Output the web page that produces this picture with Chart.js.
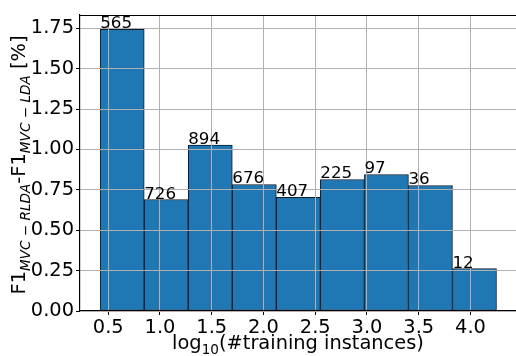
<!DOCTYPE html>
<html><head><meta charset="utf-8">
<script src="https://cdn.jsdelivr.net/npm/chart.js@4.4.0/dist/chart.umd.min.js"></script>
<style>html,body{margin:0;padding:0;background:#fff}#wrap{width:516px;height:356px;position:relative}</style>
</head><body><div id="wrap"><canvas id="c" width="516" height="356"></canvas></div>
<script>
// ---- data ----
const binCenters = [0.6348, 1.0603, 1.4858, 1.9113, 2.3368, 2.7623, 3.1878, 3.6133, 4.0388];
const f1Diff = [1.743, 0.690, 1.027, 0.783, 0.703, 0.814, 0.845, 0.777, 0.263];
const counts = [565, 726, 894, 676, 407, 225, 97, 36, 12];
const xTickValues = [0.5, 1.0, 1.5, 2.0, 2.5, 3.0, 3.5, 4.0];
const yTickValues = [0.00, 0.25, 0.50, 0.75, 1.00, 1.25, 1.50, 1.75];

const FONT = "'DejaVu Sans', sans-serif";
const BASE = 19.4;
const SUB = 13.6;

const gridOnTop = {
  id: 'gridOnTop',
  afterDatasetsDraw(chart) {
    const ca = chart.chartArea;
    const ctx = chart.ctx;
    ['x', 'y'].forEach(k => { const s = chart.scales[k]; s.drawGrid(ca); s.drawBorder && s.drawBorder(); });
    // top spine
    ctx.save();
    ctx.strokeStyle = '#000'; ctx.lineWidth = 1.1;
    ctx.beginPath(); ctx.moveTo(ca.left, ca.top + 0.5); ctx.lineTo(ca.right, ca.top + 0.5); ctx.stroke();
    ctx.restore();
    // bar count labels
    const meta = chart.getDatasetMeta(0);
    ctx.save();
    ctx.font = '16.7px ' + FONT;
    ctx.fillStyle = '#000';
    ctx.textAlign = 'left';
    ctx.textBaseline = 'alphabetic';
    meta.data.forEach((bar, i) => {
      const p = bar.getProps(['x', 'y', 'width'], true);
      ctx.fillText(String(counts[i]), p.x - p.width / 2, p.y - 1);
    });
    ctx.restore();
  }
};

function drawPieces(ctx, pieces) {
  let total = 0;
  pieces.forEach(p => { ctx.font = p.f; p.w = ctx.measureText(p.t).width; total += p.w; });
  let x = -total / 2;
  pieces.forEach(p => { ctx.font = p.f; ctx.fillText(p.t, x, p.dy || 0); x += p.w; });
}

const titles = {
  id: 'titles',
  afterDraw(chart) {
    const ctx = chart.ctx;
    const ca = chart.chartArea;
    ctx.save();
    ctx.fillStyle = '#000';
    ctx.textAlign = 'left';
    ctx.textBaseline = 'alphabetic';
    // y title
    ctx.save();
    ctx.translate(25, (ca.top + ca.bottom) / 2 + 2);
    ctx.rotate(-Math.PI / 2);
    const b = BASE + 'px ' + FONT, s = 'italic ' + SUB + 'px ' + FONT, sr = SUB + 'px ' + FONT;
    drawPieces(ctx, [
      {t: 'F1', f: b},
      {t: 'MVC', f: s, dy: 4.5}, {t: ' \u2212 ', f: sr, dy: 4.5}, {t: 'RLDA', f: s, dy: 4.5},
      {t: '-F1', f: b},
      {t: 'MVC', f: s, dy: 4.5}, {t: ' \u2212 ', f: sr, dy: 4.5}, {t: 'LDA', f: s, dy: 4.5},
      {t: ' [%]', f: b}
    ]);
    ctx.restore();
    // x title
    ctx.save();
    ctx.translate((ca.left + ca.right) / 2, 349);
    drawPieces(ctx, [
      {t: 'log', f: b}, {t: '10', f: sr, dy: 4.5}, {t: '(#training instances)', f: b}
    ]);
    ctx.restore();
    ctx.restore();
  }
};

new Chart(document.getElementById('c'), {
  type: 'bar',
  data: {
    datasets: [{
      data: binCenters.map((x, i) => ({x: x, y: f1Diff[i]})),
      backgroundColor: '#1f77b4',
      borderColor: '#0d1b26',
      borderWidth: 1,
      borderSkipped: false,
      barPercentage: 1.0,
      categoryPercentage: 1.0
    }]
  },
  options: {
    responsive: false,
    animation: false,
    devicePixelRatio: 1,
    layout: {padding: {top: 15, right: 0, left: 0, bottom: 0}},
    plugins: {legend: {display: false}, tooltip: {enabled: false}},
    scales: {
      x: {
        type: 'linear',
        min: 0.227, max: 4.44,
        offset: false,
        afterBuildTicks: sc => { sc.ticks = xTickValues.map(v => ({value: v})); },
        afterFit: sc => { sc.height = 45; },
        grid: {offset: false, color: '#b0b0b0', lineWidth: 1, tickLength: 4, tickColor: '#000', drawTicks: true},
        border: {display: true, color: '#000', width: 1.1},
        ticks: {font: {family: FONT, size: BASE}, color: '#000', padding: 1, maxRotation: 0,
                callback: v => Number(v).toFixed(1)}
      },
      y: {
        min: 0, max: 1.832,
        afterBuildTicks: sc => { sc.ticks = yTickValues.map(v => ({value: v})); },
        afterFit: sc => { sc.width = 80; },
        grid: {color: '#b0b0b0', lineWidth: 1, tickLength: 4, tickColor: '#000', drawTicks: true},
        border: {display: true, color: '#000', width: 1.1},
        ticks: {font: {family: FONT, size: BASE}, color: '#000', padding: 2,
                callback: v => Number(v).toFixed(2)}
      }
    }
  },
  plugins: [gridOnTop, titles]
});
</script></body></html>
